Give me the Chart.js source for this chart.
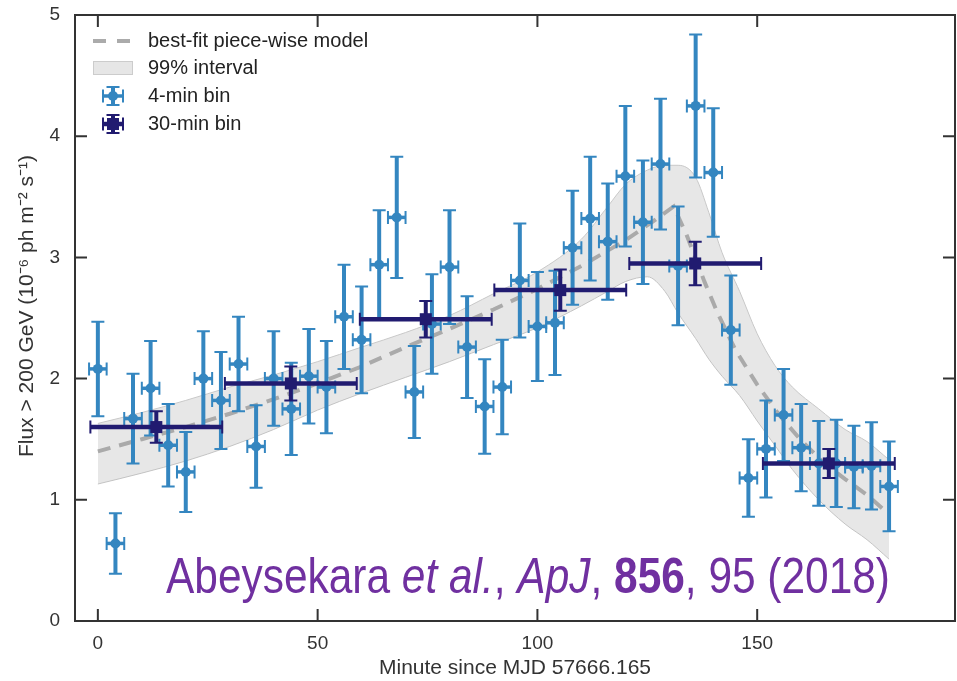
<!DOCTYPE html>
<html><head><meta charset="utf-8">
<script src="https://cdn.jsdelivr.net/npm/chart.js@4.4.0/dist/chart.umd.min.js"></script>
<style>html,body{margin:0;padding:0;background:#fff;}#wrap{width:957px;height:681px;}</style>
</head><body><div id="wrap"><canvas id="c" width="957" height="681"></canvas></div>
<script>
// ---------- data ----------
const xTickLabels = [0, 50, 100, 150];
const yTickLabels = [0, 1, 2, 3, 4, 5];

const bin4Minutes = [0,4,8,12,16,20,24,28,32,36,40,44,48,52,56,60,64,68,72,76,80,84,88,92,96,100,104,108,112,116,120,124,128,132,136,140,144,148,152,156,160,164,168,172,176,180];
const bin4Flux    = [2.08,0.64,1.67,1.92,1.45,1.23,2.00,1.82,2.12,1.44,2.00,1.75,2.02,1.93,2.51,2.32,2.94,3.33,1.89,2.45,2.92,2.26,1.77,1.93,2.81,2.43,2.46,3.08,3.32,3.13,3.67,3.29,3.77,2.93,4.25,3.70,2.40,1.18,1.42,1.70,1.43,1.30,1.30,1.27,1.28,1.11];
const bin4FluxErr = [0.39,0.25,0.37,0.39,0.34,0.33,0.39,0.40,0.39,0.34,0.39,0.38,0.39,0.38,0.43,0.44,0.45,0.50,0.38,0.41,0.47,0.42,0.39,0.39,0.47,0.45,0.43,0.47,0.51,0.48,0.58,0.51,0.54,0.49,0.59,0.53,0.45,0.32,0.40,0.38,0.36,0.35,0.36,0.34,0.36,0.37];
const bin4MinuteErr = 2;

const bin30Minutes = [13.3, 43.9, 74.6, 105.2, 135.9, 166.3];
const bin30Flux    = [1.60, 1.96, 2.49, 2.73, 2.95, 1.30];
const bin30FluxErr = [0.13, 0.14, 0.15, 0.17, 0.18, 0.12];
const bin30MinuteErr = 15;

const modelMinutes = [0,10,20,30,40,50,60,70,80,90,100,110,120,126,131,134,138,141,145,150,155,160,165,170,175,180];
const modelFlux    = [1.40,1.50,1.60,1.71,1.83,1.96,2.10,2.26,2.41,2.57,2.74,2.93,3.14,3.29,3.42,3.18,2.80,2.54,2.24,1.95,1.70,1.49,1.31,1.17,1.04,0.88];

const bandMinutes = [0,10,20,30,40,50,60,70,80,90,100,110,116,120,125,129,132,136,139,142,146,150,154,158,164,170,175,180];
const bandUpper   = [1.63,1.72,1.82,1.93,2.03,2.14,2.26,2.38,2.52,2.70,2.88,3.15,3.42,3.60,3.72,3.76,3.76,3.66,3.37,3.04,2.72,2.37,2.11,1.93,1.75,1.58,1.48,1.33];
const bandLower   = [1.13,1.22,1.32,1.44,1.58,1.74,1.88,2.01,2.14,2.28,2.42,2.60,2.72,2.80,2.84,2.72,2.54,2.33,2.16,2.02,1.86,1.65,1.45,1.25,1.00,0.80,0.67,0.51];

const legendLabels = ['best-fit piece-wise model', '99% interval', '4-min bin', '30-min bin'];
const xTitle = 'Minute since MJD 57666.165';
const yTitle = 'Flux > 200 GeV (10\u207B\u2076 ph m\u207B\u00B2 s\u207B\u00B9)';

// ---------- styles ----------
const FONT = "'Liberation Sans', Arial, Helvetica, sans-serif";
const BLUE = '#3486c0';
const NAVY = '#211b70';
const styleBlue = {color: BLUE, vW: 4, hW: 3.5, capW: 2, capL: 6.5};
const styleNavy = {color: NAVY, vW: 4, hW: 4.5, capW: 2, capL: 6.5};

function drawErr(ctx, px, py, x0, x1, y0, y1, s) {
  ctx.strokeStyle = s.color;
  ctx.lineCap = 'butt';
  ctx.lineWidth = s.vW;
  ctx.beginPath(); ctx.moveTo(px, y0); ctx.lineTo(px, y1); ctx.stroke();
  ctx.lineWidth = s.hW;
  ctx.beginPath(); ctx.moveTo(x0, py); ctx.lineTo(x1, py); ctx.stroke();
  ctx.lineWidth = s.capW;
  ctx.beginPath();
  ctx.moveTo(px - s.capL, y0); ctx.lineTo(px + s.capL, y0);
  ctx.moveTo(px - s.capL, y1); ctx.lineTo(px + s.capL, y1);
  ctx.moveTo(x0, py - s.capL); ctx.lineTo(x0, py + s.capL);
  ctx.moveTo(x1, py - s.capL); ctx.lineTo(x1, py + s.capL);
  ctx.stroke();
}

const errorBars = {
  id: 'errorBars',
  beforeDatasetDraw(chart, args) {
    const ds = chart.data.datasets[args.index];
    if (!ds.errStyle) return;
    const {ctx} = chart, x = chart.scales.x, y = chart.scales.y;
    ctx.save();
    ds.data.forEach(p => {
      drawErr(ctx, x.getPixelForValue(p.x), y.getPixelForValue(p.y),
        x.getPixelForValue(p.x - p.xErr), x.getPixelForValue(p.x + p.xErr),
        y.getPixelForValue(p.y - p.yErr), y.getPixelForValue(p.y + p.yErr), ds.errStyle);
    });
    ctx.restore();
  }
};

const frameAndExtras = {
  id: 'frameAndExtras',
  afterDraw(chart) {
    const {ctx, chartArea: a} = chart, x = chart.scales.x, y = chart.scales.y;
    ctx.save();
    // citation
    const segs = [
      ['Abeysekara ', ''], ['et al.', 'italic '], [', ', ''], ['ApJ', 'italic '],
      [', ', ''], ['856', 'bold '], [', 95 (2018)', '']
    ];
    const size = 50;
    let total = 0;
    segs.forEach(s => { ctx.font = s[1] + size + 'px ' + FONT; total += ctx.measureText(s[0]).width; });
    const sx = 724 / total;
    ctx.translate(166, 593);
    ctx.scale(sx, 1);
    ctx.fillStyle = '#7030a0';
    ctx.textBaseline = 'alphabetic';
    let cx = 0;
    segs.forEach(s => { ctx.font = s[1] + size + 'px ' + FONT; ctx.fillText(s[0], cx, 0); cx += ctx.measureText(s[0]).width; });
    ctx.restore();

    ctx.save();
    // y axis title
    ctx.translate(27, 306);
    ctx.rotate(-Math.PI / 2);
    ctx.font = '21px ' + FONT;
    ctx.fillStyle = '#333';
    ctx.textAlign = 'center';
    ctx.textBaseline = 'middle';
    ctx.fillText(yTitle, 0, 0);
    ctx.restore();

    ctx.save();
    // frame
    ctx.strokeStyle = '#333';
    ctx.lineWidth = 2;
    ctx.strokeRect(a.left, a.top, a.right - a.left, a.bottom - a.top);
    const L = 12;
    ctx.beginPath();
    x.ticks.forEach(t => {
      const px = x.getPixelForValue(t.value);
      ctx.moveTo(px, a.bottom); ctx.lineTo(px, a.bottom - L);
      ctx.moveTo(px, a.top); ctx.lineTo(px, a.top + L);
    });
    y.ticks.forEach(t => {
      const py = y.getPixelForValue(t.value);
      ctx.moveTo(a.left, py); ctx.lineTo(a.left + L, py);
      ctx.moveTo(a.right, py); ctx.lineTo(a.right - L, py);
    });
    ctx.stroke();

    // legend
    const tx = 148;
    ctx.font = '20px ' + FONT;
    ctx.fillStyle = '#222';
    ctx.textBaseline = 'middle';
    ctx.strokeStyle = '#ababab'; ctx.lineWidth = 4; ctx.setLineDash([13, 11]);
    ctx.beginPath(); ctx.moveTo(93, 41); ctx.lineTo(130, 41); ctx.stroke();
    ctx.setLineDash([]);
    ctx.fillText(legendLabels[0], tx, 41);
    ctx.fillStyle = '#e6e6e6'; ctx.fillRect(93, 61, 40, 14);
    ctx.strokeStyle = '#cccccc'; ctx.lineWidth = 1; ctx.strokeRect(93.5, 61.5, 39, 13);
    ctx.fillStyle = '#222';
    ctx.fillText(legendLabels[1], tx, 68);
    drawErr(ctx, 113, 96, 103, 123, 87, 105, styleBlue);
    ctx.fillStyle = BLUE; ctx.beginPath(); ctx.arc(113, 96, 5, 0, Math.PI * 2); ctx.fill();
    ctx.fillStyle = '#222'; ctx.fillText(legendLabels[2], tx, 96);
    drawErr(ctx, 113, 124, 103, 123, 115, 133, styleNavy);
    ctx.fillStyle = NAVY; ctx.fillRect(107, 118, 12, 12);
    ctx.fillStyle = '#222'; ctx.fillText(legendLabels[3], tx, 124);
    ctx.restore();
  }
};

const pts = (xs, ys) => xs.map((v, i) => ({x: v, y: ys[i]}));

new Chart(document.getElementById('c'), {
  type: 'scatter',
  data: {
    datasets: [
      {label: '99% lower', data: pts(bandMinutes, bandLower), showLine: true, borderColor: '#c8c8c8', borderWidth: 1,
       pointRadius: 0, fill: false, cubicInterpolationMode: 'monotone', order: 5},
      {label: legendLabels[1], data: pts(bandMinutes, bandUpper), showLine: true, borderColor: '#c8c8c8', borderWidth: 1,
       pointRadius: 0, fill: {target: 0}, backgroundColor: 'rgba(175,175,175,0.3)', cubicInterpolationMode: 'monotone', order: 4},
      {label: legendLabels[0], data: pts(modelMinutes, modelFlux), showLine: true, borderColor: '#aaaaaa', borderWidth: 4,
       borderDash: [13, 9], pointRadius: 0, fill: false, order: 3},
      {label: legendLabels[2], data: bin4Minutes.map((m, i) => ({x: m, y: bin4Flux[i], xErr: bin4MinuteErr, yErr: bin4FluxErr[i]})),
       pointStyle: 'circle', pointRadius: 5, backgroundColor: BLUE, borderWidth: 0, errStyle: styleBlue, order: 2},
      {label: legendLabels[3], data: bin30Minutes.map((m, i) => ({x: m, y: bin30Flux[i], xErr: bin30MinuteErr, yErr: bin30FluxErr[i]})),
       pointStyle: 'rect', pointRadius: 8.5, backgroundColor: NAVY, borderWidth: 0, errStyle: styleNavy, order: 1}
    ]
  },
  options: {
    responsive: false,
    animation: false,
    devicePixelRatio: 1,
    layout: {autoPadding: false, padding: {top: 15, right: 2, left: 0, bottom: 0}},
    plugins: {legend: {display: false}, tooltip: {enabled: false}},
    scales: {
      x: {
        type: 'linear', min: -5.2, max: 195,
        afterBuildTicks: s => { s.ticks = xTickLabels.map(v => ({value: v})); },
        afterFit: s => { s.height = 60; s.paddingLeft = 0; s.paddingRight = 0; },
        grid: {display: false, drawTicks: false},
        border: {display: false},
        ticks: {padding: 11, color: '#333', font: {size: 19, family: FONT}},
        title: {display: true, text: xTitle, color: '#333', font: {size: 21, family: FONT}, padding: {top: 0, bottom: 0}}
      },
      y: {
        type: 'linear', min: 0, max: 5,
        afterBuildTicks: s => { s.ticks = yTickLabels.map(v => ({value: v})); },
        afterFit: s => { s.width = 75; s.paddingTop = 0; s.paddingBottom = 0; },
        grid: {display: false, drawTicks: false},
        border: {display: false},
        ticks: {padding: 15, color: '#333', font: {size: 19, family: FONT}},
        title: {display: false}
      }
    }
  },
  plugins: [errorBars, frameAndExtras]
});
</script></body></html>
